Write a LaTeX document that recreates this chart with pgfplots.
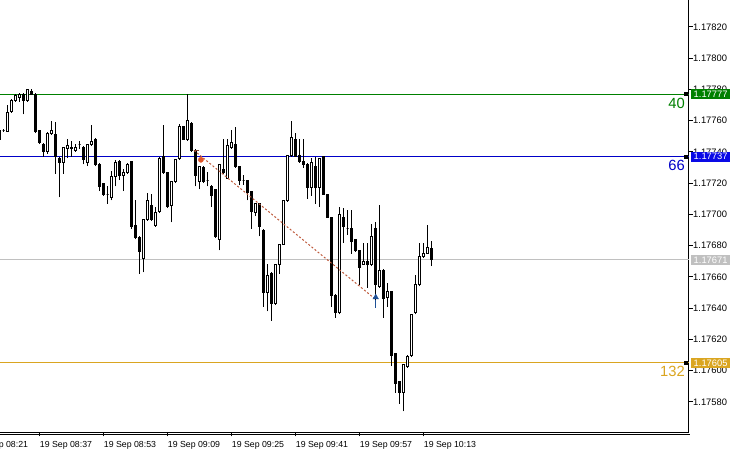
\documentclass[border=0pt]{standalone}
\usepackage{fontspec}
\setmainfont{Liberation Sans}
\usepackage{pgfplots}
\usepackage{pgfplotstable}
\pgfplotsset{compat=1.18}

\definecolor{lgreen}{RGB}{0,128,0}
\definecolor{lblue}{RGB}{0,0,200}
\definecolor{bblue}{RGB}{10,10,230}
\definecolor{lgold}{RGB}{218,165,32}
\definecolor{lsilver}{RGB}{192,192,192}
\definecolor{trade}{RGB}{190,90,60}
\definecolor{openmk}{RGB}{225,85,40}
\definecolor{closemk}{RGB}{30,80,150}

% bullish (and doji) candles: minute since 08:00, open, high, low, close
\pgfplotstableread{
t o h l c
28 1.17754 1.17755 1.17753 1.17754
29 1.17753 1.17770 1.17753 1.17765
30 1.17766 1.17774 1.17765 1.17773
31 1.17773 1.17777 1.17772 1.17776
32 1.17775 1.17778 1.17772 1.17777
34 1.17773 1.17780 1.17772 1.17780
39 1.17740 1.17753 1.17739 1.17752
40 1.17752 1.17760 1.17751 1.17754
43 1.17733 1.17743 1.17726 1.17743
44 1.17742 1.17748 1.17736 1.17744
46 1.17741 1.17745 1.17740 1.17743
47 1.17745 1.17747 1.17742 1.17745
49 1.17733 1.17745 1.17731 1.17745
50 1.17745 1.17757 1.17744 1.17747
54 1.17713 1.17718 1.17707 1.17713
55 1.17711 1.17728 1.17709 1.17724
56 1.17724 1.17735 1.17718 1.17733
58 1.17725 1.17729 1.17715 1.17727
59 1.17727 1.17733 1.17726 1.17732
63 1.17672 1.17697 1.17663 1.17697
64 1.17697 1.17714 1.17696 1.17709
66 1.17693 1.17705 1.17692 1.17701
67 1.17702 1.17737 1.17701 1.17736
70 1.17706 1.17721 1.17695 1.17721
71 1.17721 1.17735 1.17720 1.17735
72 1.17736 1.17758 1.17735 1.17756
74 1.17748 1.17777 1.17747 1.17760
77 1.17721 1.17731 1.17716 1.17731
79 1.17722 1.17727 1.17718 1.17722
82 1.17684 1.17732 1.17677 1.17732
84 1.17723 1.17748 1.17723 1.17744
85 1.17743 1.17754 1.17742 1.17746
88 1.17722 1.17725 1.17719 1.17722
91 1.17701 1.17707 1.17699 1.17707
94 1.17650 1.17668 1.17638 1.17661
96 1.17643 1.17668 1.17642 1.17668
97 1.17668 1.17681 1.17662 1.17681
98 1.17681 1.17709 1.17681 1.17709
99 1.17709 1.17738 1.17708 1.17738
100 1.17738 1.17760 1.17737 1.17749
105 1.17717 1.17736 1.17712 1.17733
107 1.17717 1.17736 1.17705 1.17736
112 1.17637 1.17705 1.17636 1.17700
114 1.17691 1.17703 1.17687 1.17691
118 1.17668 1.17682 1.17668 1.17670
120 1.17668 1.17694 1.17667 1.17686
122 1.17654 1.17706 1.17653 1.17664
124 1.17647 1.17656 1.17641 1.17651
128 1.17586 1.17604 1.17574 1.17604
129 1.17603 1.17610 1.17602 1.17609
130 1.17610 1.17636 1.17609 1.17636
131 1.17637 1.17661 1.17636 1.17655
132 1.17655 1.17682 1.17654 1.17673
133 1.17673 1.17682 1.17672 1.17675
134 1.17675 1.17693 1.17675 1.17679
}\bull

% bearish candles
\pgfplotstableread{
t o h l c
27 1.17754 1.17755 1.17747 1.17748
33 1.17777 1.17778 1.17764 1.17773
35 1.17779 1.17780 1.17777 1.17777
36 1.17777 1.17778 1.17752 1.17753
37 1.17754 1.17754 1.17745 1.17746
38 1.17745 1.17746 1.17737 1.17740
41 1.17751 1.17759 1.17726 1.17737
42 1.17736 1.17737 1.17711 1.17733
45 1.17743 1.17747 1.17737 1.17742
48 1.17743 1.17744 1.17732 1.17735
51 1.17748 1.17749 1.17731 1.17732
52 1.17732 1.17733 1.17715 1.17718
53 1.17720 1.17720 1.17712 1.17713
57 1.17734 1.17735 1.17722 1.17725
60 1.17734 1.17734 1.17691 1.17692
61 1.17693 1.17709 1.17684 1.17685
62 1.17685 1.17686 1.17662 1.17676
65 1.17706 1.17713 1.17696 1.17697
68 1.17737 1.17757 1.17726 1.17727
69 1.17727 1.17727 1.17704 1.17705
73 1.17756 1.17756 1.17748 1.17748
75 1.17758 1.17759 1.17740 1.17741
76 1.17741 1.17742 1.17718 1.17725
78 1.17730 1.17731 1.17720 1.17721
80 1.17718 1.17719 1.17705 1.17712
81 1.17716 1.17716 1.17685 1.17686
83 1.17729 1.17748 1.17726 1.17727
86 1.17745 1.17756 1.17730 1.17731
87 1.17731 1.17731 1.17719 1.17722
89 1.17722 1.17722 1.17709 1.17714
90 1.17715 1.17715 1.17691 1.17702
92 1.17707 1.17707 1.17686 1.17692
93 1.17690 1.17691 1.17641 1.17650
95 1.17662 1.17663 1.17632 1.17643
101 1.17748 1.17752 1.17737 1.17737
102 1.17738 1.17748 1.17733 1.17734
103 1.17734 1.17748 1.17730 1.17732
104 1.17732 1.17733 1.17710 1.17717
106 1.17731 1.17737 1.17707 1.17717
108 1.17737 1.17737 1.17713 1.17713
109 1.17713 1.17713 1.17698 1.17698
110 1.17698 1.17698 1.17641 1.17648
111 1.17648 1.17649 1.17634 1.17637
113 1.17698 1.17704 1.17682 1.17692
115 1.17691 1.17703 1.17675 1.17683
116 1.17684 1.17684 1.17676 1.17677
117 1.17677 1.17677 1.17655 1.17666
119 1.17670 1.17682 1.17653 1.17668
121 1.17691 1.17695 1.17642 1.17655
123 1.17664 1.17665 1.17634 1.17646
125 1.17651 1.17651 1.17603 1.17610
126 1.17611 1.17611 1.17586 1.17592
127 1.17593 1.17593 1.17579 1.17586
135 1.17678 1.17683 1.17667 1.17671
}\bear

\newcommand\drawcandles[2]{% #1 table, #2 body fill
  \pgfplotstablegetrowsof{#1}%
  \pgfmathtruncatemacro\nrows{\pgfplotsretval-1}%
  \pgfplotsforeachungrouped \i in {0,...,\nrows}{%
    \pgfplotstablegetelem{\i}{t}\of{#1}\let\vt\pgfplotsretval
    \pgfplotstablegetelem{\i}{o}\of{#1}\let\vo\pgfplotsretval
    \pgfplotstablegetelem{\i}{h}\of{#1}\let\vh\pgfplotsretval
    \pgfplotstablegetelem{\i}{l}\of{#1}\let\vl\pgfplotsretval
    \pgfplotstablegetelem{\i}{c}\of{#1}\let\vc\pgfplotsretval
    \pgfmathsetmacro\vtl{\vt-0.25}%
    \pgfmathsetmacro\vtr{\vt+0.25}%
    \edef\next{%
      \noexpand\addplot[black, line width=1bp, mark=none] coordinates {(\vt,\vl) (\vt,\vh)};
      \noexpand\addplot[draw=black, fill=#2, line width=1bp, mark=none]
        coordinates {(\vtl,\vo) (\vtr,\vo) (\vtr,\vc) (\vtl,\vc)} --cycle;}%
    \next
  }%
}

\begin{document}
\begin{tikzpicture}
\path[use as bounding box] (0,0) rectangle (739bp,454bp);
\begin{axis}[
  at={(0,21.5bp)}, anchor=south west,
  scale only axis, width=688.5bp, height=432.5bp,
  xmin=27.075, xmax=199.2,
  ymin=1.1756048, ymax=1.1783728,
  clip=false,
  axis x line*=bottom, axis y line*=right,
  axis line style={line width=1bp, black, -},
  every tick/.style={black, line width=1bp},
  tick align=outside, major tick length=4bp,
  xtick={37,53,69,85,101,117,133},
  xticklabels={19 Sep 08:37,19 Sep 08:53,19 Sep 09:09,19 Sep 09:25,19 Sep 09:41,19 Sep 09:57,19 Sep 10:13},
  xticklabel style={anchor=north west, inner sep=0pt, font=\fontsize{8.8}{10}\selectfont},
  xticklabel shift=5bp,
  ytick={1.1758,1.1760,1.1762,1.1764,1.1766,1.1768,1.1770,1.1772,1.1774,1.1776,1.1778,1.1780,1.1782},
  yticklabels={1.17580,1.17600,1.17620,1.17640,1.17660,1.17680,1.17700,1.17720,1.17740,1.17760,1.17780,1.17800,1.17820},
  yticklabel style={anchor=west, inner sep=0pt, font=\fontsize{9.4}{10}\selectfont},
  yticklabel shift=0.5bp,
]
% horizontal price levels
\addplot[lgreen, line width=1bp] coordinates {(27.075,1.17777) (199.2,1.17777)};
\addplot[lblue, line width=1bp] coordinates {(27.075,1.17737) (199.2,1.17737)};
\addplot[lsilver, line width=1bp] coordinates {(27.075,1.17671) (199.2,1.17671)};
\addplot[lgold, line width=1bp] coordinates {(27.075,1.17605) (199.2,1.17605)};

% candles
\drawcandles{\bull}{white}
\drawcandles{\bear}{black}

% trade line and markers
\addplot[trade, line width=1bp, dash pattern=on 2bp off 2bp] coordinates {(75.575,1.17741) (120.825,1.17646)};
\addplot[only marks, mark=-, mark size=2.5bp, line width=1bp, color=trade!70!black] coordinates {(76.3,1.17741)};
\addplot[only marks, mark=*, mark size=2.6bp, color=openmk] coordinates {(77.3,1.17735)};
\addplot[only marks, mark=triangle*, mark size=3.2bp, color=closemk] coordinates {(121.0,1.17647)};
\addplot[closemk, line width=1.5bp] coordinates {(121.0,1.17645) (121.0,1.17640)};

% small squares at the ends of the levels
\addplot[only marks, mark=square*, mark size=1.5bp, mark options={line width=0pt}, black]
  coordinates {(198.45,1.17777) (198.45,1.17737) (198.45,1.17605)};

\coordinate (eg) at (axis cs:199.2,1.17777);
\coordinate (eb) at (axis cs:199.2,1.17737);
\coordinate (es) at (axis cs:199.2,1.17671);
\coordinate (eo) at (axis cs:199.2,1.17605);
\coordinate (t21) at (axis cs:21,1.1756048);
\end{axis}

\draw[line width=1bp] (0,19.5bp) -- (690bp,19.5bp);

% partially visible first time label
\node[anchor=north west, inner sep=0pt, font=\fontsize{8.8}{10}\selectfont] at ([yshift=-9bp]t21) {19 Sep 08:21};

\tikzset{pricebox/.style={text=white, anchor=west, inner xsep=2.5bp, inner ysep=0pt,
  minimum height=10bp, font=\fontsize{9.4}{10}\selectfont}}
\node[pricebox, fill=lgreen] at ([xshift=2.5bp]eg) {1.17777};
\node[pricebox, fill=bblue] at ([xshift=2.5bp]eb) {1.17737};
\node[pricebox, fill=lsilver] at ([xshift=2.5bp]es) {1.17671};
\node[pricebox, fill=lgold] at ([xshift=2.5bp]eo) {1.17605};

\tikzset{lvl/.style={anchor=base east, inner sep=0pt, font=\fontsize{14.8}{16}\selectfont}}
\node[lvl, text=lgreen] at ([xshift=-3.5bp, yshift=-14bp]eg) {40};
\node[lvl, text=lblue] at ([xshift=-3.5bp, yshift=-14bp]eb) {66};
\node[lvl, text=lgold] at ([xshift=-3.5bp, yshift=-14bp]eo) {132};
\end{tikzpicture}
\end{document}
